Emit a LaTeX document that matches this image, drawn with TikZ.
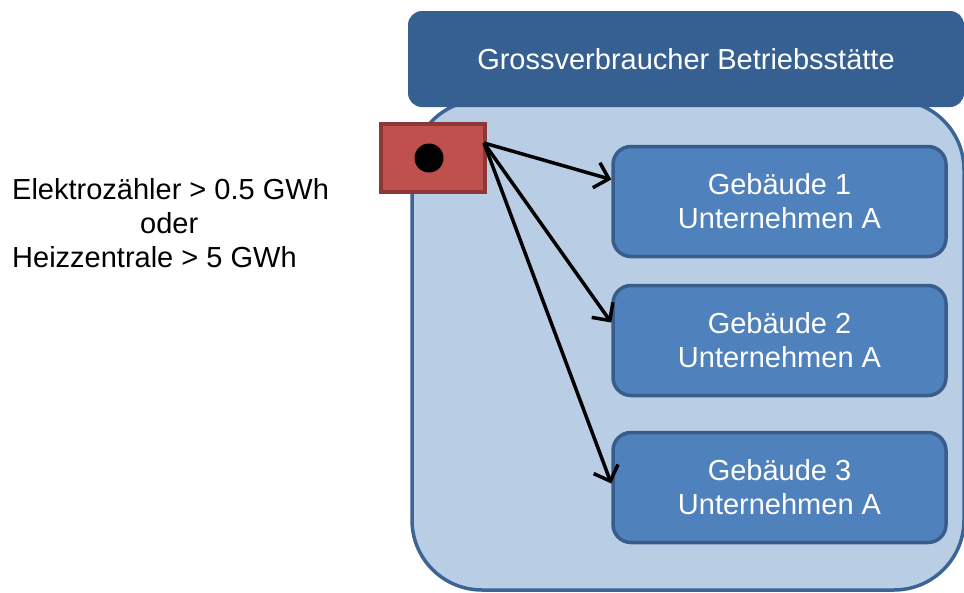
\documentclass[tikz,border=0pt]{standalone}
\usepackage{fontspec}
\setmainfont{Liberation Sans}
\usetikzlibrary{arrows.meta}
\definecolor{hdrblue}{HTML}{376092}
\definecolor{contfill}{HTML}{B9CDE5}
\definecolor{contline}{HTML}{3C6494}
\definecolor{boxfill}{HTML}{4F81BD}
\definecolor{boxline}{HTML}{385D8A}
\definecolor{redfill}{HTML}{C0504D}
\definecolor{redline}{HTML}{8C3836}
\tikzset{
  bigtext/.style={font=\fontsize{29}{34}\selectfont},
  container/.style={draw=contline, line width=3.5pt, fill=contfill, rounded corners=70pt, minimum width=552pt, minimum height=490pt, inner sep=0pt},
  header/.style={fill=hdrblue, rounded corners=14pt, minimum width=556pt, minimum height=96pt, inner sep=0pt, text=white, bigtext},
  bldg/.style={draw=boxline, line width=3.5pt, fill=boxfill, rounded corners=18pt, minimum width=333pt, minimum height=110pt, inner sep=0pt, text=white, align=center, bigtext},
  meter/.style={draw=redline, line width=3.5pt, fill=redfill, minimum width=104pt, minimum height=68pt, inner sep=0pt},
  link/.style={line width=3.5pt, black, -{Straight Barb[length=13pt, width=26pt, line width=3.5pt]}}
}
\begin{document}
\begin{tikzpicture}[x=1pt,y=-1pt]
\useasboundingbox (0,0) rectangle (964,592);
\node[container] (cont) at (688,345) {};
\node[header] (hdr) at (686,59) {Grossverbraucher Betriebsstätte};
\node[bldg] (b1) at (779.5,201.5) {Gebäude 1\\Unternehmen A};
\node[bldg] (b2) at (779.5,340.5) {Gebäude 2\\Unternehmen A};
\node[bldg] (b3) at (779.5,487.5) {Gebäude 3\\Unternehmen A};
\node[meter] (m) at (433,158) {};
\node[circle, fill=black, minimum size=29pt, inner sep=0pt] (dot) at (429,158) {};
\node[bigtext, align=left, anchor=north west, inner sep=0pt] (lbl) at (12,178) {Elektrozähler > 0.5 GWh\\\hspace*{128pt}oder\\Heizzentrale > 5 GWh};
\coordinate (src) at (484,143);
\coordinate (e1) at ([yshift=22pt]b1.west);
\coordinate (e2) at ([yshift=18pt]b2.west);
\coordinate (e3) at ([yshift=4pt]b3.west);
\draw[link] (src) -- (e1);
\draw[link] (src) -- (e2);
\draw[link] (src) -- (e3);
\end{tikzpicture}
\end{document}
